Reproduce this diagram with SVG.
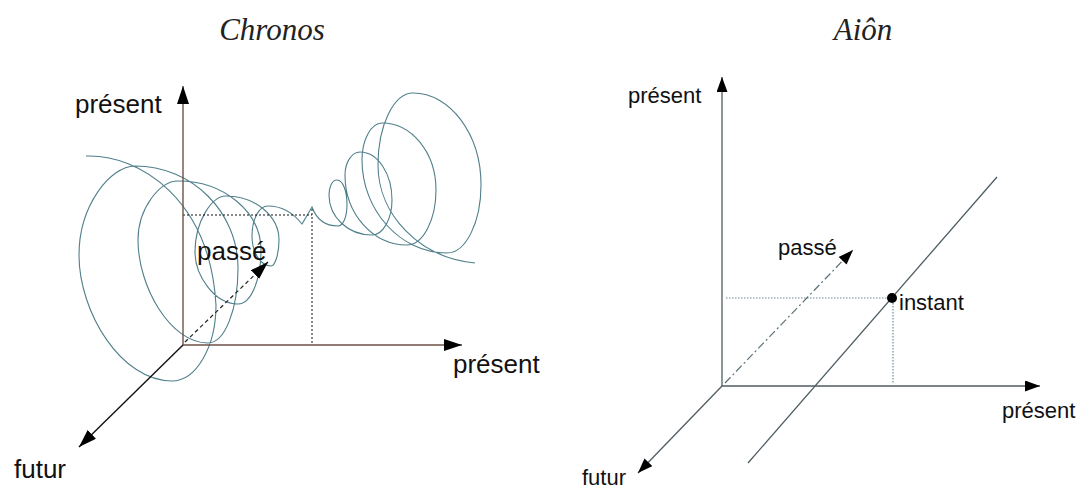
<svg xmlns="http://www.w3.org/2000/svg" width="1082" height="491" viewBox="0 0 1082 491">
<defs>
<style>
.title{font-family:"Liberation Serif","Times New Roman",serif;font-style:italic;font-size:31px;fill:#222;}
.lblL{font-family:"Liberation Sans",Arial,sans-serif;font-size:26px;fill:#111;}
.lblR{font-family:"Liberation Sans",Arial,sans-serif;font-size:22px;fill:#111;}
.axisL{stroke:#6e5248;stroke-width:1.4;fill:none;}
.axisR{stroke:#4f5d62;stroke-width:1.3;fill:none;}
.black{stroke:#111;stroke-width:1.4;fill:none;}
.spiral{stroke:#4f7f8a;stroke-width:1.1;fill:none;}
.dotted{stroke:#111;stroke-width:1;stroke-dasharray:2 2;fill:none;}
.dottedB{stroke:#6f8a98;stroke-width:1.2;stroke-dasharray:1.5 1.5;fill:none;}
.dashL{stroke:#222;stroke-width:1.2;stroke-dasharray:4 3;fill:none;}
.dashR{stroke:#5a7078;stroke-width:1.2;stroke-dasharray:8 3 2 3;fill:none;}
</style>
<marker id="arrL" markerWidth="20" markerHeight="12" refX="18" refY="6" orient="auto" markerUnits="userSpaceOnUse">
<path d="M0,0 L18,6 L0,12 Z" fill="#000"/>
</marker>
<marker id="arrR" markerWidth="16" markerHeight="11" refX="15" refY="5.5" orient="auto" markerUnits="userSpaceOnUse">
<path d="M0,0 L15,5.5 L0,11 Z" fill="#000"/>
</marker>
</defs>
<rect x="0" y="0" width="1082" height="491" fill="#fff"/>

<g id="title-chronos"><text class="title" x="272" y="40" text-anchor="middle">Chronos</text></g>
<g id="title-aion"><text class="title" x="863" y="40" text-anchor="middle">Aiôn</text></g>

<g id="connectors">
  <!-- Chronos panel -->
  <path id="spiral" class="spiral" d="M 86,156 C 140,154 210,200 216,305 C 216,347 196,381 172,381 C 121,381 79,312 79,255 C 79,206 110,166 135,166 C 192,166 238,212 238,268 C 238,309 225,343 208,343 C 170,343 138,286 138,240 C 138,208 160,181 178,181 C 224,181 261,212 261,250 C 261,280 251,304 238,304 C 214,304 195,275 195,252 C 195,221 212,196 226,196 C 255,196 279,216 279,240 C 279,254 275,266 271,266 C 261,266 252,253 252,236 C 252,219 259,206 268,206 C 282,206 294,214 302,224 L 312,207 C 316,218 324,226 338,226 C 343,226 347,217 347,205 C 347,191 343,180 337,180 C 332,180 329,187 329,195 C 329,217 348,235 372,235 C 383,235 392,219 392,200 C 392,174 378,152 360,152 C 352,152 345,162 345,175 C 345,214 373,245 407,245 C 423,245 436,220 436,190 C 436,153 412,123 382,123 C 371,123 362,140 362,160 C 362,210 400,253 447,253 C 466,253 481,222 481,185 C 481,134 450,93 413,93 C 394,93 378,125 378,165 C 378,215 420,258 475,263"/>
  <path class="dotted" d="M 183,215 L 312,215 M 312,209 L 312,345"/>
  <line class="axisL" x1="183" y1="345" x2="183" y2="86" marker-end="url(#arrL)"/>
  <line class="axisL" x1="183" y1="345" x2="462" y2="345" marker-end="url(#arrL)"/>
  <line class="black" x1="183" y1="345" x2="79" y2="447" marker-end="url(#arrL)"/>
  <line class="dashL" x1="185" y1="342" x2="268" y2="262" marker-end="url(#arrL)"/>

  <!-- Aion panel -->
  <path class="dottedB" d="M 726,298 L 892,298 M 893,300 L 893,384"/>
  <line class="axisR" x1="722" y1="386" x2="722" y2="77" marker-end="url(#arrR)"/>
  <line class="axisR" x1="722" y1="386" x2="1040" y2="386" marker-end="url(#arrR)"/>
  <line class="axisR" x1="722" y1="386" x2="638" y2="473" marker-end="url(#arrR)"/>
  <line class="dashR" x1="725" y1="383" x2="853" y2="250" marker-end="url(#arrR)"/>
  <line class="axisR" x1="748" y1="463" x2="997" y2="177"/>
</g>

<g id="label-present-up-L"><text class="lblL" x="75" y="113">présent</text></g>
<g id="label-present-right-L"><text class="lblL" x="453" y="373">présent</text></g>
<g id="label-passe-L"><text class="lblL" x="197" y="260">passé</text></g>
<g id="label-futur-L"><text class="lblL" x="14" y="478">futur</text></g>

<g id="label-present-up-R"><text class="lblR" x="628" y="103">présent</text></g>
<g id="label-present-right-R"><text class="lblR" x="1002" y="418">présent</text></g>
<g id="label-passe-R"><text class="lblR" x="778" y="255">passé</text></g>
<g id="node-instant"><circle cx="892" cy="298" r="5" fill="#000"/><text class="lblR" x="899" y="310">instant</text></g>
<g id="label-futur-R"><text class="lblR" x="582" y="485">futur</text></g>
</svg>
